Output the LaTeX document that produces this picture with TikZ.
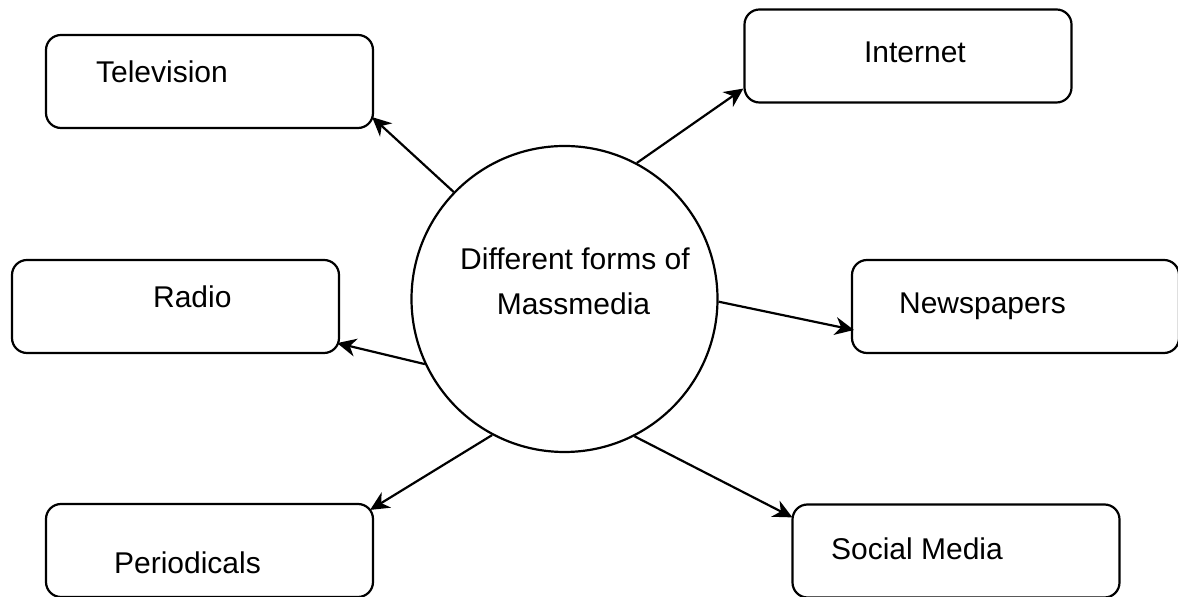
\documentclass[tikz,border=0pt]{standalone}
\usepackage{fontspec}
\setmainfont{Liberation Sans}
\usetikzlibrary{arrows.meta, calc}

\begin{document}
\begin{tikzpicture}[x=0.5pt, y=-0.5pt, line width=1.1pt,
  box/.style={draw, rounded corners=7.5pt, minimum width=163.5pt, minimum height=46.5pt, inner sep=0pt},
  hub/.style={draw, circle, minimum size=153pt, inner sep=0pt},
  lbl/.style={anchor=base west, inner sep=0pt, font=\fontsize{15}{18}\selectfont},
  link/.style={-{Stealth[length=9.5pt, width=9pt, inset=3pt]}}]
	\useasboundingbox (0,0) rectangle (1178,597);
	% centre
	\node[hub] (mm) at (564.5,299) {};
	\node[lbl, anchor=base] (mm1) at (575,270) {Different forms of};
	\node[lbl, anchor=base] (mm2) at (573.5,315) {Massmedia};
	% media boxes
	\node[box] (tv) at (209.5,81.5) {};
	\node[box] (inet) at (908,56) {};
	\node[box] (radio) at (175.5,306.5) {};
	\node[box] (news) at (1015.5,306.5) {};
	\node[box] (per) at (209.5,550.5) {};
	\node[box] (soc) at (956,551) {};
	\node[lbl] (tvtxt) at (95,83) {Television};
	\node[lbl] (inettxt) at (863,63) {Internet};
	\node[lbl] (radiotxt) at (152,308) {Radio};
	\node[lbl] (newstxt) at (898,314) {Newspapers};
	\node[lbl] (pertxt) at (113,574) {Periodicals};
	\node[lbl] (soctxt) at (830,560) {Social Media};
	% arrows
	\draw[link] (mm.136.6) -- ($(tv.south east)+(-2,-12)$);
	\draw[link] (mm.62.4) -- ($(inet.south west)+(0,-15)$);
	\draw[link] (mm.205.6) -- ($(radio.south east)+(-3,-11)$);
	\draw[link] (mm.-1.5) -- ($(news.west)+(3,23.5)$);
	\draw[link] (mm.242) -- ($(per.north east)+(-4,7)$);
	\draw[link] (mm.297.4) -- ($(soc.north west)+(1,14)$);
\end{tikzpicture}
\end{document}
